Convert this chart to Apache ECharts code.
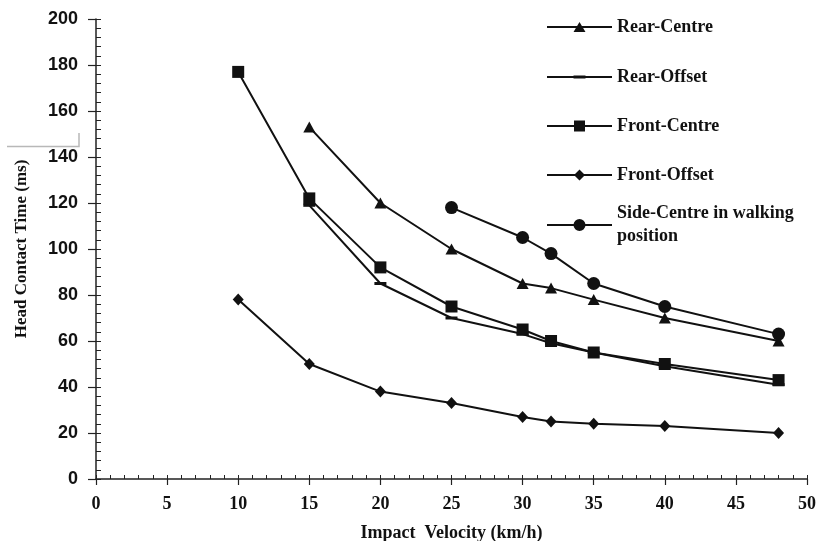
<!DOCTYPE html>
<html>
<head>
<meta charset="utf-8">
<script src="https://cdn.jsdelivr.net/npm/echarts@6/dist/echarts.min.js"></script>
<style>
  html, body { margin: 0; padding: 0; background: #fff; }
  #chart { width: 816px; height: 541px; }
</style>
</head>
<body>
<div id="chart"></div>
<script>
const velocities = [10, 15, 20, 25, 30, 32, 35, 40, 48];
const rearCentre = [null, 153, 120, 100, 85, 83, 78, 70, 60];
const rearOffset = [null, 119, 85, 70, 63, 59, 55, 49, 41];
const frontCentre = [177, 122, 92, 75, 65, 60, 55, 50, 43];
const frontOffset = [78, 50, 38, 33, 27, 25, 24, 23, 20];
const sideCentre = [null, null, null, 118, 105, 98, 85, 75, 63];
const seriesNames = ["Rear-Centre", "Rear-Offset", "Front-Centre", "Front-Offset", "Side-Centre in walking position"];
const xRange = { min: 0, max: 50, interval: 5 };
const yRange = { min: 0, max: 200, interval: 20 };

const ink = "#111";
const serif = "'Liberation Serif', 'Times New Roman', serif";

// line + marker icons for the legend (65 x 12 box)
const lineBar = "M0 5 H65 V7 H0 Z ";
const icons = [
  lineBar + "M26.5 11 L32.5 1 L38.5 11 Z",
  lineBar + "M26.5 4.5 H38.5 V7.5 H26.5 Z",
  lineBar + "M27 0.5 H38 V11.5 H27 Z",
  lineBar + "M32.5 0.5 L38 6 L32.5 11.5 L27 6 Z",
  lineBar + "M38.5 6 A6 6 0 1 1 26.5 6 A6 6 0 1 1 38.5 6 Z",
];
const markers = [
  { symbol: "triangle", size: [12, 11] },
  { symbol: "rect", size: [12, 3] },
  { symbol: "rect", size: 12 },
  { symbol: "diamond", size: [11, 12] },
  { symbol: "circle", size: 13 },
];
const legendTops = [15.5, 65.5, 114.5, 163.5, 190.5];
const values = [rearCentre, rearOffset, frontCentre, frontOffset, sideCentre];

function pairs(list) {
  return velocities.map((v, i) => (list[i] == null ? [v, "-"] : [v, list[i]]));
}

const chart = echarts.init(document.getElementById("chart"));

const legends = seriesNames.map((name, i) => {
  const last = i === seriesNames.length - 1;
  return {
    left: 547,
    top: legendTops[i],
    padding: 0,
    itemWidth: 65,
    itemHeight: 12,
    selectedMode: false,
    formatter: last ? "Side-Centre in walking\nposition" : "{name}",
    textStyle: {
      fontFamily: serif,
      fontWeight: "bold",
      fontSize: 18,
      color: ink,
      lineHeight: 23,
      padding: last ? [23, 0, 0, 0] : 0,
    },
    data: [{ name, icon: "path://" + icons[i] }],
  };
});

const series = seriesNames.map((name, i) => ({
  name,
  type: "line",
  data: pairs(values[i]),
  symbol: markers[i].symbol,
  symbolSize: markers[i].size,
  showAllSymbol: true,
  connectNulls: false,
  color: ink,
  lineStyle: { color: ink, width: 2 },
  itemStyle: { color: ink },
  emphasis: { disabled: true },
  z: 3,
}));

chart.setOption({
  animation: false,
  backgroundColor: "#fff",
  grid: { left: 96, right: 9, top: 19, bottom: 62, containLabel: false, outerBoundsMode: "none" },
  legend: legends,
  xAxis: [
    {
      type: "value",
      ...xRange,
      name: "Impact  Velocity (km/h)",
      nameLocation: "middle",
      nameGap: 45,
      nameTextStyle: { fontFamily: serif, fontWeight: "bold", fontSize: 18, color: ink },
      axisLine: { lineStyle: { color: "#222", width: 1.5 } },
      axisTick: { length: 6, lineStyle: { color: "#222", width: 1.2 } },
      axisLabel: { margin: 16, fontFamily: serif, fontWeight: "bold", fontSize: 18, color: ink },
      splitLine: { show: false },
    },
    {
      type: "value",
      min: 0,
      max: 50,
      interval: 1,
      position: "bottom",
      axisLine: { show: false },
      axisTick: { inside: true, length: 4, lineStyle: { color: "#222", width: 1 } },
      axisLabel: { show: false },
      splitLine: { show: false },
    },
  ],
  yAxis: [
    {
      type: "value",
      ...yRange,
      position: "left",
      name: "Head Contact Time (ms)",
      nameLocation: "middle",
      nameGap: 66,
      nameTextStyle: { fontFamily: serif, fontWeight: "bold", fontSize: 17, color: ink },
      axisLine: { show: true, lineStyle: { color: "#222", width: 1.5 } },
      axisTick: { show: true, length: 8, lineStyle: { color: "#222", width: 1.2 } },
      axisLabel: { margin: 18, fontFamily: "'Liberation Sans', Arial, sans-serif", fontWeight: "bold", fontSize: 18, color: ink },
      splitLine: { show: false },
    },
    {
      type: "value",
      min: 0,
      max: 200,
      interval: 4,
      position: "left",
      axisLine: { show: false },
      axisTick: { show: true, inside: true, length: 5, lineStyle: { color: "#222", width: 1 } },
      axisLabel: { show: false },
      splitLine: { show: false },
    },
  ],
  graphic: [
    {
      type: "polyline",
      shape: { points: [[7, 146.5], [79, 146.5], [79, 133]] },
      style: { stroke: "#b8b8b8", lineWidth: 1.5, fill: null },
    },
  ],
  series,
});

window.addEventListener("resize", () => chart.resize());
</script>
</body>
</html>
